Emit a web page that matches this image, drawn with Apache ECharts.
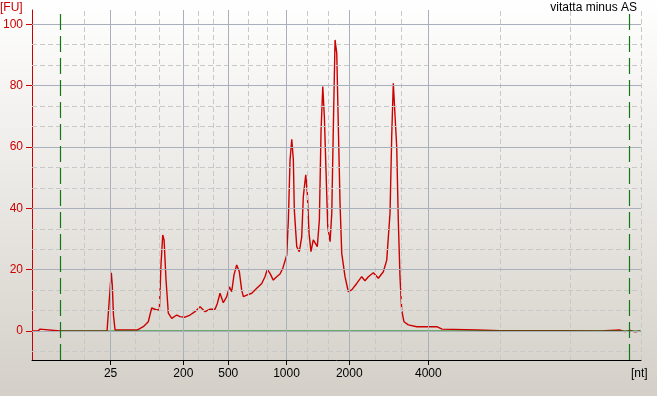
<!DOCTYPE html>
<html><head><meta charset="utf-8">
<script src="https://cdn.jsdelivr.net/npm/echarts@6/dist/echarts.min.js"></script>
<style>html,body{margin:0;padding:0;background:#e8e6e2;}#c{width:657px;height:396px;}</style>
</head><body><div id="c"></div>
<script>
// ---- data ----
const chartTitle = 'vitatta minus AS';
const yUnit = '[FU]';
const xUnit = '[nt]';
const xMin = 19, xMax = 69.08;            // migration time (s)
const yMin = -9.46, yMax = 104.66;        // fluorescence units
const ladderLabels = ['25', '200', '500', '1000', '2000', '4000'];
const ladderTimes  = [25.46, 31.44, 35.14, 39.93, 45.09, 51.59];
const minorTimes   = [23.30, 27.49, 29.47, 32.68, 33.91, 36.75, 38.35, 41.67, 43.37, 47.26, 49.40, 57.49, 63.30, 69.08];
const markerTimes  = [21.30, 68.14];
const yTicks = [0, 20, 40, 60, 80, 100];
const yMinor = [-6.67, 6.67, 13.33, 26.67, 33.33, 46.67, 53.33, 66.67, 73.33, 86.67, 93.33];
const timeSec = [19.00,19.49,19.66,19.82,21.30,24.59,25.17,25.22,25.46,25.52,25.60,25.70,25.83,26.24,27.64,28.15,28.56,28.84,28.99,29.16,29.47,29.61,29.75,29.86,30.02,30.21,30.49,30.90,31.17,31.58,31.99,32.40,32.82,33.23,33.64,34.05,34.24,34.46,34.73,35.01,35.23,35.42,35.61,35.83,36.05,36.24,36.38,36.66,37.07,37.48,37.89,38.16,38.35,38.57,38.84,39.12,39.39,39.62,39.95,40.08,40.22,40.36,40.49,40.57,40.77,40.98,41.18,41.31,41.51,41.64,41.78,41.94,42.13,42.27,42.46,42.63,42.77,42.91,43.04,43.18,43.32,43.51,43.65,43.78,43.92,44.06,44.19,44.33,44.47,44.74,45.01,45.29,45.70,46.11,46.38,46.66,47.07,47.48,47.89,48.17,48.44,48.58,48.71,48.85,48.99,49.12,49.26,49.40,49.59,49.95,50.64,52.28,52.72,55.59,57.49,62.42,65.71,67.36,67.77,68.18,68.59,69.00];
const fu      = [0,0,0.6,0,0,0,0,0,16,19.0,15,5,0.3,0.3,0.3,1.4,3.0,7.5,7.9,7.0,6.8,22,31.3,29.7,16.6,5.8,4.1,5.2,4.7,4.5,5.2,6.3,7.9,6.3,7.1,7.1,9.0,12.3,9.2,11.2,14.4,12.8,18.3,21.5,19.3,13.4,11.2,11.7,12.3,13.9,15.5,17.7,20.1,18.8,16.6,17.7,18.6,20.4,24.8,36.2,55.8,62.5,55.8,39.5,27.5,25.9,30.7,43.8,50.9,44.9,31.9,25.9,29.7,29.1,27.5,36.2,65.5,79.7,69.9,51.7,34.0,29.1,38.4,66.6,94.9,90.5,66.6,41.6,25.3,17.7,12.8,13.4,15.5,17.7,16.4,17.7,19.0,17.2,19.3,23.1,38.4,63.4,80.8,81.3,60.1,36.2,17.7,6.8,3.0,2.0,1.4,1.4,0.6,0.3,0.1,0.1,0,0.3,-0.2,0.2,-0.3,0];

// ---- chart ----
const FONT = 'Liberation Sans';
const signal = timeSec.map((t, i) => [t, fu[i]]);
const ml = (vals, key, style) => ({
  silent: true, symbol: ['none', 'none'], label: { show: false },
  emphasis: { disabled: true }, animation: false,
  lineStyle: style, data: vals.map(v => ({ [key]: v }))
});
const chart = echarts.init(document.getElementById('c'), null, { renderer: 'canvas' });
chart.setOption({
  animation: false,
  backgroundColor: { type: 'linear', x: 0, y: 0, x2: 0, y2: 1,
    colorStops: [{ offset: 0, color: '#ffffff' }, { offset: 1, color: '#d4d0c8' }] },
  textStyle: { fontFamily: FONT },
  title: [
    { text: chartTitle, right: 20, top: 2, padding: 0, textStyle: { fontSize: 12, fontWeight: 'normal', color: '#000', fontFamily: FONT } },
    { text: yUnit, left: 0, top: 2, padding: 0, textStyle: { fontSize: 12, fontWeight: 'normal', color: '#cc0000', fontFamily: FONT } },
    { text: xUnit, left: 631, top: 368, padding: 0, textStyle: { fontSize: 12, fontWeight: 'normal', color: '#000', fontFamily: FONT } }
  ],
  grid: { left: 32, right: 16, top: 10, bottom: 36 },
  xAxis: {
    type: 'value', min: xMin, max: xMax,
    axisLine: { show: true, onZero: false, lineStyle: { color: '#000', width: 1 } },
    axisTick: { show: true, length: 5, customValues: ladderTimes, lineStyle: { color: '#000' } },
    axisLabel: { customValues: ladderTimes, margin: 8, fontSize: 12, color: '#000', fontFamily: FONT,
      formatter: v => { const i = ladderTimes.findIndex(t => Math.abs(t - v) < 1e-6); return i >= 0 ? ladderLabels[i] : ''; } },
    splitLine: { show: false }
  },
  yAxis: {
    type: 'value', min: yMin, max: yMax,
    axisLine: { show: true, onZero: false, lineStyle: { color: '#cc0000', width: 1 } },
    axisTick: { show: true, length: 6, customValues: yTicks, lineStyle: { color: '#cc0000' } },
    axisLabel: { customValues: yTicks, margin: 9, fontSize: 12, color: '#cc0000', fontFamily: FONT },
    splitLine: { show: false }
  },
  series: [
    { type: 'line', z: 1, data: [[xMin, 0]], showSymbol: false, symbol: 'none', lineStyle: { opacity: 0 }, silent: true,
      markLine: ml(minorTimes, 'xAxis', { color: '#c8c8c8', type: [5, 3], width: 1 }) },
    { type: 'line', z: 1, data: [[xMin, 0]], showSymbol: false, symbol: 'none', lineStyle: { opacity: 0 }, silent: true,
      markLine: ml(yMinor, 'yAxis', { color: '#c8c8c8', type: [5, 3], width: 1 }) },
    { type: 'line', z: 1, data: [[xMin, 0]], showSymbol: false, symbol: 'none', lineStyle: { opacity: 0 }, silent: true,
      markLine: ml(ladderTimes, 'xAxis', { color: '#a9b0bc', type: 'solid', width: 1 }) },
    { type: 'line', z: 1, data: [[xMin, 0]], showSymbol: false, symbol: 'none', lineStyle: { opacity: 0 }, silent: true,
      markLine: ml(yTicks, 'yAxis', { color: '#a9b0bc', type: 'solid', width: 1 }) },
    { name: 'signal', type: 'line', z: 3, data: signal, showSymbol: false, symbol: 'none', silent: true,
      sampling: 'none', clip: false,
      lineStyle: { color: '#cc0000', width: 1.4 } },
    { name: 'baseline', type: 'line', z: 4, data: [[markerTimes[0], 0], [xMax, 0]], showSymbol: false, symbol: 'none', silent: true,
      lineStyle: { color: '#0f800f', width: 1 } },
    { type: 'line', z: 5, data: [[xMin, 0]], showSymbol: false, symbol: 'none', lineStyle: { opacity: 0 }, silent: true,
      markLine: ml(markerTimes, 'xAxis', { color: '#137713', type: [16, 6], width: 1.2 }) }
  ]
});
</script></body></html>
